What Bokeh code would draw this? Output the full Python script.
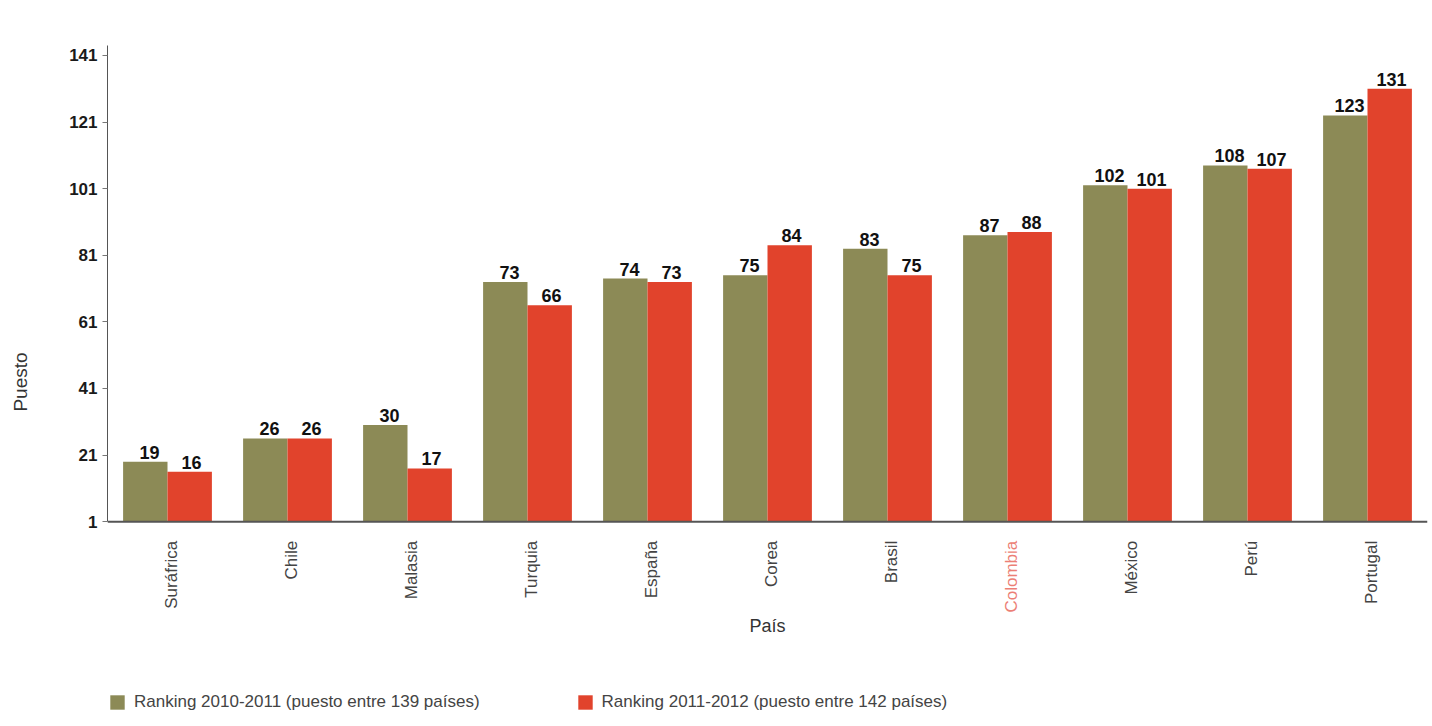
from math import pi
from bokeh.plotting import figure
from bokeh.models import (ColumnDataSource, FactorRange, Range1d, FixedTicker, Legend,
                          LegendItem, Span)
from bokeh.transform import dodge
from bokeh.core.properties import value
from bokeh.embed import file_html
from bokeh.resources import INLINE

countries = ["Suráfrica", "Chile", "Malasia", "Turquia", "España", "Corea",
             "Brasil", "Colombia", "México", "Perú", "Portugal"]
rank_2010 = [19, 26, 30, 73, 74, 75, 83, 87, 102, 108, 123]
rank_2011 = [16, 26, 17, 66, 73, 84, 75, 88, 101, 107, 131]
y_ticks = [1, 21, 41, 61, 81, 101, 121, 141]
label_2010 = "Ranking 2010-2011 (puesto entre 139 países)"
label_2011 = "Ranking 2011-2012 (puesto entre 142 países)"
x_title = "País"
y_title = "Puesto"
highlight = "Colombia"

FONT = "Liberation Sans"
GREEN = "#8C8A56"
RED = "#E1432C"
LABEL_GRAY = "#444444"
LABEL_PINK = "#EC7F76"

src = ColumnDataSource(dict(
    c=countries, a=rank_2010, b=rank_2011,
    at=[str(v) for v in rank_2010], bt=[str(v) for v in rank_2011],
    base=[1] * len(countries),
    lc=[LABEL_PINK if c == highlight else LABEL_GRAY for c in countries],
))

p = figure(x_range=FactorRange(*countries), y_range=Range1d(-58.1, 144),
           frame_width=1320, frame_height=673, output_backend="svg", toolbar_location=None,
           min_border_left=107, min_border_top=45, min_border_right=2, min_border_bottom=0)
p.outline_line_color = None
p.xgrid.grid_line_color = None
p.ygrid.grid_line_color = None
p.xaxis.visible = False

r1 = p.vbar(x=dodge("c", -0.185, range=p.x_range), top="a", bottom=1, width=0.37,
            source=src, fill_color=GREEN, line_color=None)
r2 = p.vbar(x=dodge("c", 0.185, range=p.x_range), top="b", bottom=1, width=0.37,
            source=src, fill_color=RED, line_color=None)

p.text(x=dodge("c", -0.15, range=p.x_range), y="a", text="at", source=src,
       text_align="center", text_baseline="bottom", y_offset=-3,
       text_font=value(FONT), text_font_size="18px", text_font_style="bold", text_color="#111111")
p.text(x=dodge("c", 0.2, range=p.x_range), y="b", text="bt", source=src,
       text_align="center", text_baseline="bottom", y_offset=-3,
       text_font=value(FONT), text_font_size="18px", text_font_style="bold", text_color="#111111")

# category (x) axis: baseline + rotated labels + title
p.add_layout(Span(location=1, dimension="width", line_color="#555555", line_width=2))
p.text(x=dodge("c", 0.03, range=p.x_range), y="base", text="c", source=src,
       angle=pi / 2, text_align="right", text_baseline="middle", y_offset=19,
       text_font=value(FONT), text_font_size="17px", text_color="lc")
p.text(x=[len(countries) / 2], y=[1], text=[x_title], text_align="center",
       text_baseline="middle", y_offset=104,
       text_font=value(FONT), text_font_size="18px", text_color="#333333")

# y axis
p.yaxis.ticker = FixedTicker(ticks=y_ticks)
p.yaxis.bounds = (1, 144)
p.yaxis.axis_label = y_title
p.yaxis.axis_label_text_font = FONT
p.yaxis.axis_label_text_font_size = "19px"
p.yaxis.axis_label_text_font_style = "normal"
p.yaxis.axis_label_text_color = "#333333"
p.yaxis.axis_label_standoff = 35
p.yaxis.major_label_text_font = FONT
p.yaxis.major_label_text_font_size = "17px"
p.yaxis.major_label_text_font_style = "bold"
p.yaxis.major_label_text_color = "#1a1a1a"
p.yaxis.major_tick_in = 0
p.yaxis.major_tick_out = 5
p.yaxis.minor_tick_line_color = None
p.yaxis.axis_line_color = "#555555"
p.yaxis.major_tick_line_color = "#777777"

legend = Legend(items=[LegendItem(label=label_2010, renderers=[r1]),
                       LegendItem(label=label_2011, renderers=[r2])],
                orientation="horizontal", location=(1, 6), spacing=96,
                glyph_width=18, glyph_height=18, label_standoff=8,
                label_text_font=FONT, label_text_font_size="17px", label_text_color=LABEL_GRAY,
                border_line_color=None, background_fill_alpha=0, margin=0, padding=2)
p.add_layout(legend)

open("out.html", "w").write(file_html(p, INLINE))
